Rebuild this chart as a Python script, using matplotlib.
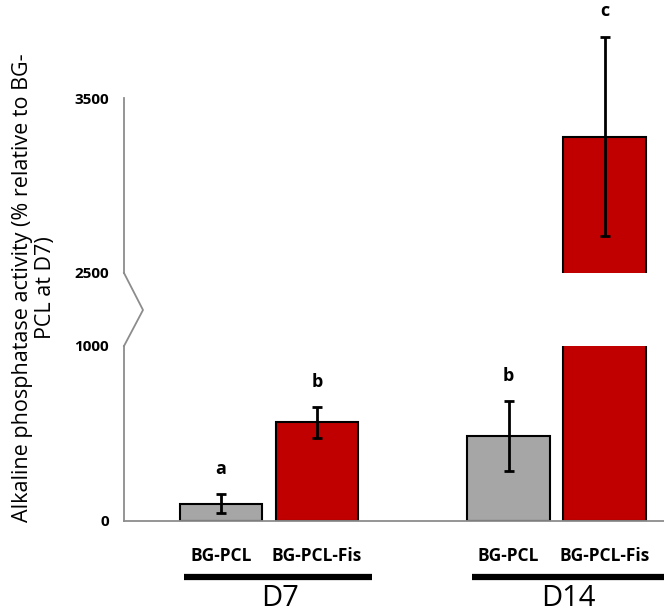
import numpy as np
import matplotlib.pyplot as plt
from matplotlib.lines import Line2D
from matplotlib.transforms import blended_transform_factory

plt.rcParams['font.family'] = ['Open Sans', 'DejaVu Sans']

# data
groups = ["D7", "D14"]
samples = ["BG-PCL", "BG-PCL-Fis", "BG-PCL", "BG-PCL-Fis"]
values = [100, 563, 483, 3280]
errors = [52, 86, 200, 570]
letters = ["a", "b", "b", "c"]
colors = ["#A6A6A6", "#C00000", "#A6A6A6", "#C00000"]
lower_ticks = [0, 1000]
upper_ticks = [2500, 3500]

x = np.array([0, 1, 3, 4])
W, H = 664, 613
fig = plt.figure(figsize=(W / 100, H / 100), dpi=100)

# pixel helpers
def fx(px):
    return px / W

def fy(py):
    return 1 - py / H

axl = fig.add_axes([fx(124), fy(521), 1 - fx(124), fy(346) - fy(521)])
axu = fig.add_axes([fx(124), fy(273), 1 - fx(124), fy(0) - fy(273)])

xlim = (-1.01, 4.62)
axis_col = "#8C8C8C"
for ax, lo, hi, ticks in [(axl, 0, 1000, lower_ticks), (axu, 2500, 2500 + 273 / 0.175, upper_ticks)]:
    ax.bar(x, values, width=0.86, color=colors, edgecolor="black", linewidth=1.5, zorder=2)
    ax.errorbar(x, values, yerr=errors, fmt="none", ecolor="black", elinewidth=2,
                capsize=3.5, capthick=2, zorder=3)
    ax.set_xlim(*xlim)
    ax.set_ylim(lo, hi)
    ax.set_yticks(ticks)
    ax.set_yticklabels([str(t) for t in ticks], fontweight="bold", fontsize=11)
    ax.tick_params(axis="y", length=0, pad=11)
    ax.set_xticks([])
    for s in ["top", "right", "bottom"]:
        ax.spines[s].set_visible(False)
    ax.spines["left"].set_color(axis_col)
    ax.spines["left"].set_linewidth(1.3)
    ax.patch.set_alpha(0)

axu.spines["left"].set_bounds(2500, 3500)
axl.spines["bottom"].set_visible(True)
axl.spines["bottom"].set_color(axis_col)
axl.spines["bottom"].set_linewidth(1.3)

# zigzag break on the y axis
fig.add_artist(Line2D([fx(124), fx(143), fx(124)], [fy(273), fy(310), fy(346)],
                      color=axis_col, linewidth=1.3))

# significance letters
for i, (xi, v, e, l) in enumerate(zip(x, values, errors, letters)):
    ax = axu if v + e > 1000 else axl
    ax.annotate(l, (xi, v + e), xytext=(0, 12), textcoords="offset points",
                ha="center", va="bottom", fontweight="bold", fontsize=13, annotation_clip=False)

# category and group labels
tr = blended_transform_factory(axl.transData, fig.transFigure)
for xi, s in zip(x, samples):
    axl.text(xi, fy(556), s, transform=tr, ha="center", va="center",
             fontweight="bold", fontsize=12.5)
for gi, g in enumerate(groups):
    left, right = x[2 * gi] - 0.38, x[2 * gi + 1] + 0.58
    if gi == 1:
        right += 0.1
    axl.plot([left, right], [fy(577), fy(577)], transform=tr, color="black",
             linewidth=4.5, clip_on=False, solid_capstyle="butt")
    axl.text((x[2 * gi] + x[2 * gi + 1]) / 2 + 0.12, fy(598), g, transform=tr,
             ha="center", va="center", fontsize=21)

fig.text(fx(34), fy(288), "Alkaline phosphatase activity (% relative to BG-\nPCL at D7)",
         rotation=90, ha="center", va="center", multialignment="center", fontsize=15.5,
         linespacing=1.1)

fig.savefig("out.png", dpi=100)
